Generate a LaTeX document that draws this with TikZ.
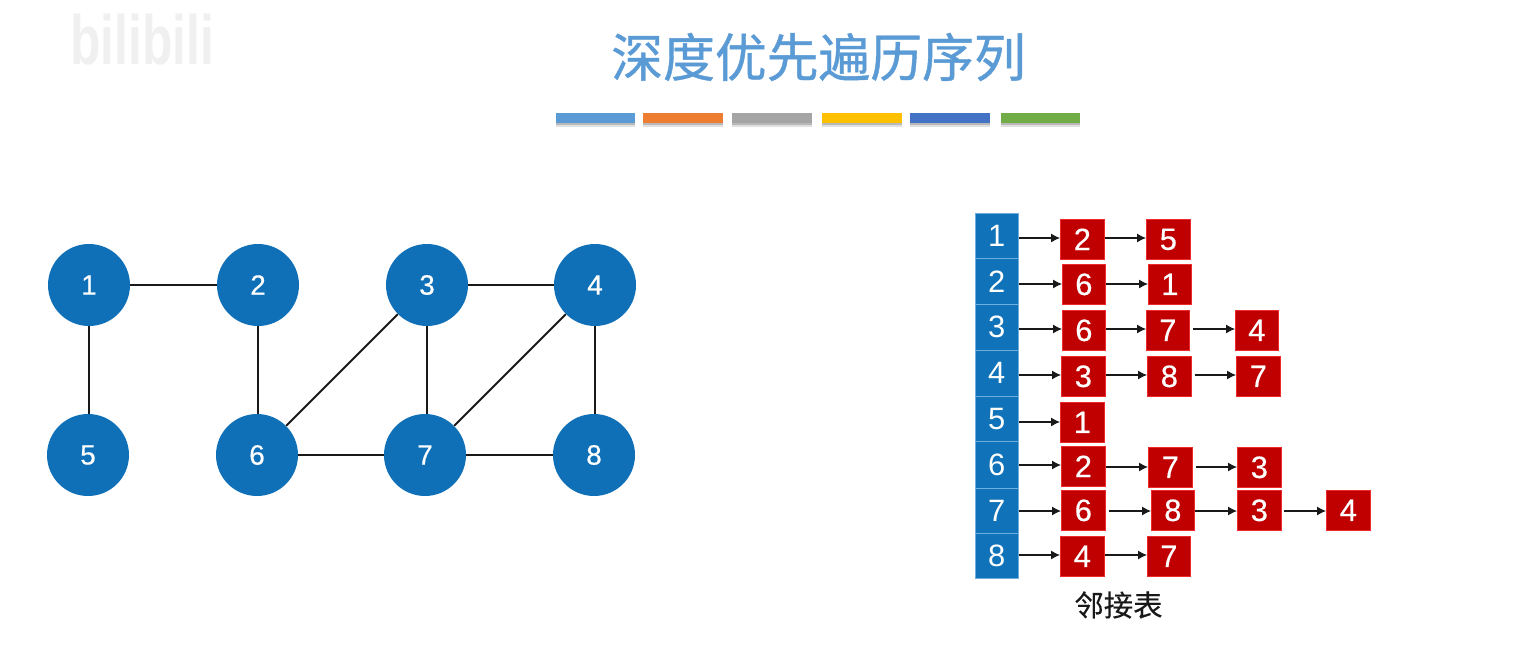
\documentclass[tikz,border=0pt]{standalone}
\usepackage{fontspec}
\setmainfont{Liberation Sans}
\newfontfamily\numfont[FakeBold=0.4]{Liberation Sans}
\newfontfamily\cjk[FakeBold=0.3]{Noto Sans CJK SC}
\newfontfamily\cjktitle[FakeBold=0.8]{Noto Sans CJK SC}
\usetikzlibrary{arrows.meta}
\definecolor{nodeblue}{HTML}{0F70B7}
\definecolor{cellblue}{HTML}{1072B8}
\definecolor{cellline}{HTML}{6FAEDC}
\definecolor{boxred}{HTML}{C00000}
\definecolor{boxline}{HTML}{EE2A2A}
\definecolor{titleblue}{HTML}{5B9BD5}
\tikzset{
  gnode/.style={circle,fill=nodeblue,minimum size=82bp,inner sep=0pt,text=white,font=\numfont\fontsize{28}{28}\selectfont},
  edge/.style={line width=2pt,black!90},
  cell/.style={rectangle,anchor=north west,fill=cellblue,draw=cellline,line width=0.6pt,inner sep=0pt,text=white,font=\fontsize{31}{31}\selectfont},
  rbox/.style={rectangle,anchor=north west,fill=boxred,draw=boxline,line width=0.7pt,inner sep=0pt,text=white,font=\numfont\fontsize{31}{31}\selectfont},
  arr/.style={-{Latex[length=9bp,width=9bp]},line width=1.1pt,black!90},
  bar/.style={anchor=north west,inner sep=0pt,minimum height=10bp},
}
\newcommand{\cellN}[5]{\node[cell,minimum width=43bp,minimum height=#4bp] (#1) at (#2,#3) {#5};}
\newcommand{\boxN}[5]{\node[rbox,minimum width=#4bp,minimum height=40bp] (#1) at (#2,#3) {\raisebox{-1.5bp}{#5}};}
\newcommand{\arrN}[4][0]{\draw[arr] ([xshift=#1bp]#2.east |- 0,#4) -- (#3.west |- 0,#4);}
\begin{document}
\begin{tikzpicture}[x=1bp,y=-1bp]
\useasboundingbox (0,0) rectangle (1516,653);
\fill[white] (0,0) rectangle (1516,653);
% watermark
\node[text=black!6,font=\bfseries\fontsize{50}{50}\selectfont,yscale=1.4] (wm) at (142,40) {bilibili};
% title
\node[text=titleblue,font=\cjktitle\fontsize{52}{52}\selectfont] (title) at (818.5,57) {深度优先遍历序列};
% colour bars
\foreach \nm/\xa/\w/\c in {b1/556/79/5B9BD5,b2/643/80/ED7D31,b3/732/80/A5A5A5,b4/822/80/FFC000,b5/910/80/4472C4,b6/1001/79/70AD47}{
  \definecolor{barc}{HTML}{\c}
  \fill[black!12] (\xa,117) rectangle ++(\w,10);
  \fill[black!28] (\xa,116) rectangle ++(\w,9);
  \node[bar,fill=barc,minimum width=\w bp] (\nm) at (\xa,113) {};
}
% graph
\node[gnode] (g1) at (89,285) {1};
\node[gnode] (g2) at (258,285) {2};
\node[gnode] (g3) at (427,285) {3};
\node[gnode] (g4) at (595,285) {4};
\node[gnode] (g5) at (88,455) {5};
\node[gnode] (g6) at (257,455) {6};
\node[gnode] (g7) at (425,455) {7};
\node[gnode] (g8) at (594,455) {8};
\foreach \a/\b in {g1/g2,g3/g4,g6/g7,g7/g8,g6/g3,g7/g4}
  \draw[edge] (\a) -- (\b);
\foreach \a/\b in {g1/g5,g2/g6,g3/g7,g4/g8}
  \draw[edge] (\a.south) -- (\a.south |- \b.north);
% adjacency heads
\cellN{h1}{975}{213}{45}{1}
\cellN{h2}{975}{258}{46}{2}
\cellN{h3}{975}{304}{46}{3}
\cellN{h4}{975}{350}{46}{4}
\cellN{h5}{975}{396}{45}{5}
\cellN{h6}{975}{441}{47}{6}
\cellN{h7}{975}{488}{45}{7}
\cellN{h8}{975}{533}{45}{8}
% boxes
\boxN{a1}{1060}{219}{44}{2}
\boxN{a2}{1146}{219}{44}{5}
\boxN{b21}{1062}{264}{43}{6}
\boxN{b22}{1148}{264}{43}{1}
\boxN{c1}{1062}{310}{43}{6}
\boxN{c2}{1146}{310}{43}{7}
\boxN{c3}{1235}{310}{43}{4}
\boxN{d1}{1061}{356}{44}{3}
\boxN{d2}{1147}{356}{44}{8}
\boxN{d3}{1236}{356}{44}{7}
\boxN{e1}{1060}{402}{44}{1}
\boxN{f1}{1061}{446}{44}{2}
\boxN{f2}{1148}{447}{44}{7}
\boxN{f3}{1237}{447}{44}{3}
\boxN{k1}{1061}{490}{44}{6}
\boxN{k2}{1151}{490}{43}{8}
\boxN{k3}{1237}{490}{44}{3}
\boxN{k4}{1326}{490}{44}{4}
\boxN{m1}{1060}{536}{44}{4}
\boxN{m2}{1147}{536}{43}{7}
% arrows
\arrN{h1}{a1}{238}\arrN{a1}{a2}{238}
\arrN{h2}{b21}{284}\arrN{b21}{b22}{284}
\arrN{h3}{c1}{329}\arrN{c1}{c2}{329}\arrN[3]{c2}{c3}{329}
\arrN{h4}{d1}{375}\arrN{d1}{d2}{375}\arrN[3]{d2}{d3}{375}
\arrN{h5}{e1}{422}
\arrN{h6}{f1}{465}\arrN{f1}{f2}{467}\arrN[3]{f2}{f3}{467}
\arrN{h7}{k1}{511}\arrN[3]{k1}{k2}{511}\arrN{k2}{k3}{511}\arrN[2]{k3}{k4}{511}
\arrN{h8}{m1}{555}\arrN{m1}{m2}{555}
% caption
\node[text=black!90,font=\cjk\fontsize{29.5}{29.5}\selectfont] (cap) at (1118.5,605) {邻接表};
\end{tikzpicture}
\end{document}
